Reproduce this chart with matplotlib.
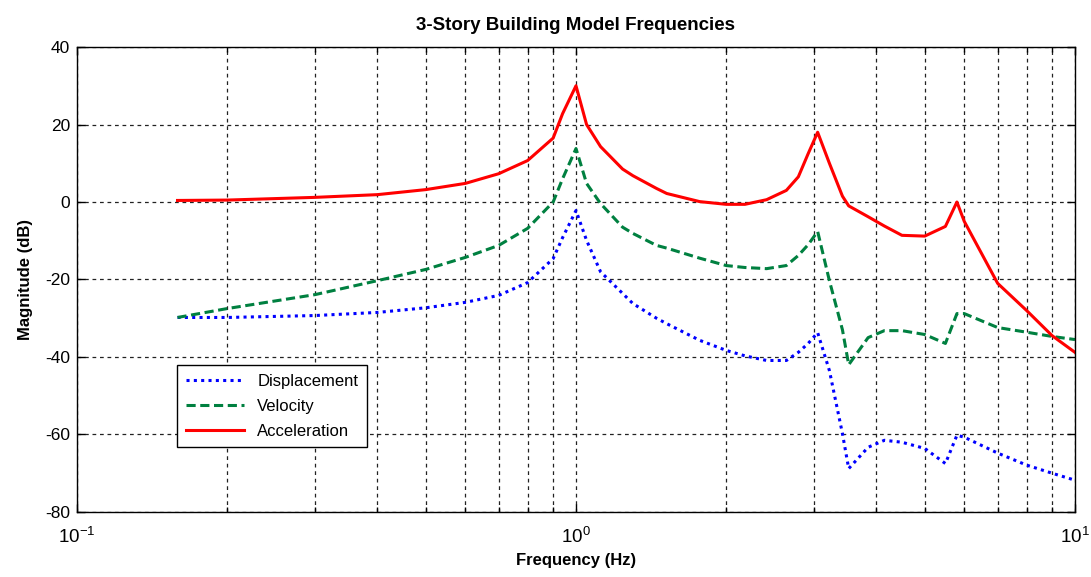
import matplotlib
matplotlib.use("Agg")
import matplotlib.pyplot as plt
from matplotlib.ticker import LogLocator, MultipleLocator

plt.rcParams['font.family'] = ['Liberation Sans', 'DejaVu Sans']
plt.rcParams['mathtext.fontset'] = 'custom'
plt.rcParams['mathtext.rm'] = 'Liberation Sans'
plt.rcParams['axes.unicode_minus'] = False

# frequency response of the 3-story model (Hz, dB)
freq = [0.159, 0.2, 0.3, 0.4, 0.5, 0.6, 0.7, 0.8, 0.9, 0.94, 1.0, 1.05, 1.12,
        1.24, 1.3, 1.45, 1.52, 1.77, 2.0, 2.18, 2.41, 2.64, 2.79, 2.92, 3.05,
        3.22, 3.42, 3.52, 3.85, 4.15, 4.5, 5.0, 5.5, 5.8, 6.0, 7.0, 8.0, 9.0, 10.0]

displacement = [-29.8, -29.8, -29.3, -28.5, -27.3, -25.9, -24.1, -20.8, -14.6, -9.2,
                -2.2, -9.9, -18.0, -23.6, -26.2, -30.0, -31.4, -35.7, -38.3, -39.7,
                -40.9, -40.9, -38.8, -36.5, -33.7, -43.5, -59.8, -68.8, -63.3, -61.5,
                -62.0, -63.6, -67.5, -60.2, -60.7, -64.8, -67.9, -70.0, -71.8]

velocity = [-29.8, -27.5, -23.9, -20.3, -17.4, -14.3, -11.2, -6.8, 0.0, 6.0,
            13.8, 4.8, -0.4, -6.5, -8.1, -11.2, -11.9, -14.5, -16.4, -16.9,
            -17.2, -16.4, -13.8, -11.0, -7.6, -20.3, -33.0, -42.0, -35.0, -33.2,
            -33.2, -34.2, -36.5, -28.8, -28.8, -32.4, -33.6, -34.7, -35.5]

acceleration = [0.4, 0.5, 1.2, 1.9, 3.2, 4.8, 7.3, 10.7, 16.5, 22.8,
                30.0, 20.0, 14.3, 8.5, 6.8, 3.5, 2.2, 0.1, -0.6, -0.6,
                0.6, 3.0, 6.5, 12.5, 18.0, 10.0, 1.5, -1.0, -3.8, -6.2,
                -8.6, -8.8, -6.3, 0.0, -5.0, -21.0, -28.0, -34.5, -38.8]

fig = plt.figure(figsize=(10.91, 5.77), dpi=100)
ax = fig.add_axes([0.0706, 0.1127, 0.9147, 0.8058])

ax.semilogx(freq, displacement, color='#0000ff', linestyle=(0, (1, 1.4)), linewidth=2.2, label='Displacement')
ax.semilogx(freq, velocity, color='#008040', linestyle=(0, (3, 1.5)), linewidth=2.2, label='Velocity')
ax.semilogx(freq, acceleration, color='#ff0000', linestyle='-', linewidth=2.2, label='Acceleration')

ax.set_xlim(0.1, 10)
ax.set_ylim(-80, 40)
ax.xaxis.set_major_locator(LogLocator(base=10))
ax.xaxis.set_minor_locator(LogLocator(base=10, subs=range(2, 10)))
ax.yaxis.set_major_locator(MultipleLocator(20))

grid_style = dict(color='#222222', linestyle=(0, (3, 3)), linewidth=0.9)
ax.grid(True, which='major', **grid_style)
ax.grid(True, which='minor', axis='x', **grid_style)

ax.tick_params(which='both', direction='in', top=True, right=True)
ax.tick_params(which='major', length=6, width=1)
ax.tick_params(which='minor', length=3.5, width=1)
ax.tick_params(axis='y', labelsize=12.5, pad=5)
ax.tick_params(axis='x', which='major', labelsize=13.5, pad=11)
ax.tick_params(axis='x', which='minor', labelbottom=False)
for spine in ax.spines.values():
    spine.set_linewidth(1.0)

ax.set_title('3-Story Building Model Frequencies', fontsize=13.5, fontweight='bold', pad=12)
ax.set_xlabel('Frequency (Hz)', fontsize=12, fontweight='bold', labelpad=4)
ax.set_ylabel('Magnitude (dB)', fontsize=12, fontweight='bold', labelpad=9)

leg = ax.legend(loc='upper left', bbox_to_anchor=(0.092, 0.333), fontsize=12,
                fancybox=False, edgecolor='black', framealpha=1, handlelength=3.5,
                borderpad=0.5, labelspacing=0.6)
leg.get_frame().set_linewidth(1.0)

fig.savefig('out.png', dpi=100)
